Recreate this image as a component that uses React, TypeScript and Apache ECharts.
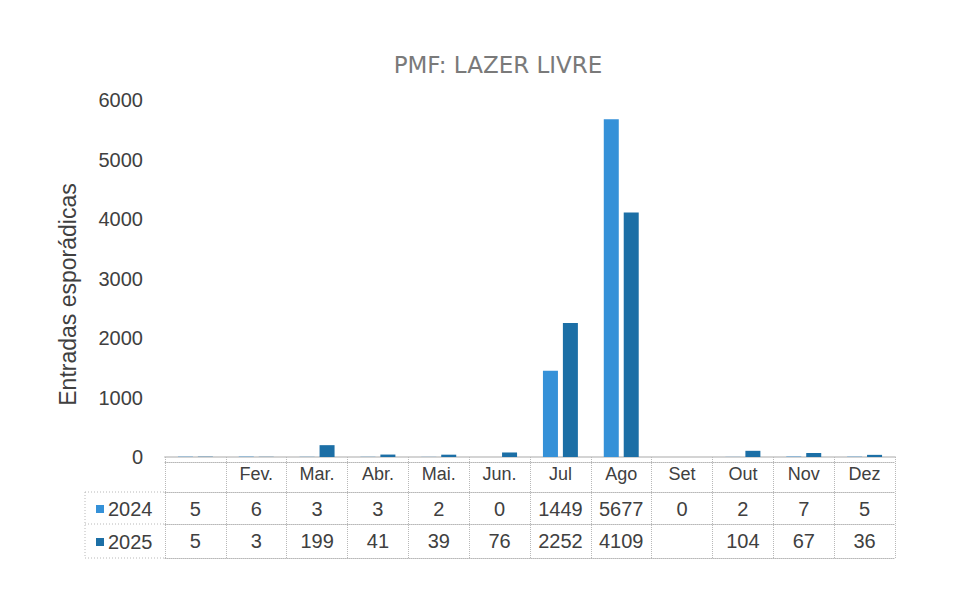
import React, { useEffect, useRef } from "react";
import * as echarts from "echarts";

const TITLE = "PMF: LAZER LIVRE";
const Y_NAME = "Entradas esporádicas";
const categories = ["", "Fev.", "Mar.", "Abr.", "Mai.", "Jun.", "Jul", "Ago", "Set", "Out", "Nov", "Dez"];
const seriesNames = ["2024", "2025"];
const values2024: (number | null)[] = [5, 6, 3, 3, 2, 0, 1449, 5677, 0, 2, 7, 5];
const values2025: (number | null)[] = [5, 3, 199, 41, 39, 76, 2252, 4109, null, 104, 67, 36];
const yTicks = { min: 0, max: 6000, interval: 1000 };

const C2024 = "#3591d8";
const C2025 = "#1c6fa6";
const TEXT = "#404040";
const GRID_LINE = "#b8b8b8";
const FONT = "Liberation Sans, Arial, sans-serif";

export default function App() {
  const ref = useRef<HTMLDivElement>(null);
  useEffect(() => {
    if (!ref.current) return;
    const chart = echarts.init(ref.current, null, { renderer: "svg" });
    const gridLeft = 165;
    const gridRight = 61;
    const gridTop = 100;
    const gridBottom = 133;
    const baseY = 590 - gridBottom;
    const row0 = 5;
    const row1 = 35;
    const row2 = 67;
    const row3 = 101;
    const tableLine = { color: GRID_LINE, width: 1, type: "dotted" as const };
    const toLabels = (arr: (number | null)[]) => arr.map((v) => (v == null ? "" : String(v)));
    const rowAxis = (offset: number, data: string[], show: boolean) => ({
      type: "category",
      gridIndex: 0,
      position: "bottom",
      offset,
      data,
      axisLine: { show: true, lineStyle: tableLine },
      axisTick: { show: false },
      axisLabel: {
        show,
        interval: 0,
        color: TEXT,
        fontSize: 20,
        fontFamily: FONT,
        margin: 7,
        verticalAlign: "top",
      },
      splitLine: { show: false },
    });
    const borderStyle = { stroke: GRID_LINE, lineWidth: 1, lineDash: [1, 2] };
    chart.setOption({
      animation: false,
      backgroundColor: "#ffffff",
      title: {
        text: TITLE,
        left: 493,
        textAlign: "center",
        top: 48,
        textStyle: {
          color: "#7a7a7a",
          fontSize: 23,
          fontWeight: "normal",
          fontFamily: "DejaVu Sans, sans-serif",
        },
      },
      legend: {
        orient: "vertical",
        left: 91,
        top: 494,
        itemWidth: 8,
        itemHeight: 8,
        itemGap: 13,
        icon: "rect",
        data: seriesNames,
        textStyle: { color: TEXT, fontSize: 20, fontFamily: FONT, lineHeight: 20, padding: [0, 0, 0, -1] },
        selectedMode: false,
      },
      grid: { left: gridLeft, right: gridRight, top: gridTop, bottom: gridBottom },
      xAxis: [
        {
          type: "category",
          data: categories,
          axisLine: { show: true, lineStyle: { color: "#d4d4d4", width: 2 } },
          axisTick: { show: true, interval: 0, length: row3, inside: false, lineStyle: tableLine },
          axisLabel: {
            interval: 0,
            color: TEXT,
            fontSize: 18,
            fontFamily: FONT,
            margin: 8,
            verticalAlign: "top",
          },
        },
        rowAxis(row0, categories.map(() => ""), false),
        rowAxis(row1, toLabels(values2024), true),
        rowAxis(row2, toLabels(values2025), true),
        rowAxis(row3, categories.map(() => ""), false),
      ],
      yAxis: {
        type: "value",
        min: yTicks.min,
        max: yTicks.max,
        interval: yTicks.interval,
        name: Y_NAME,
        nameLocation: "middle",
        nameGap: 86,
        nameRotate: 90,
        nameTextStyle: { color: TEXT, fontSize: 23, fontFamily: FONT, padding: [0, 32, 0, 0] },
        axisLine: { show: false },
        axisTick: { show: false },
        splitLine: { show: false },
        axisLabel: { color: TEXT, fontSize: 20, fontFamily: FONT, margin: 22, formatter: (v: number) => String(v) },
      },
      series: [
        {
          name: seriesNames[0],
          type: "bar",
          xAxisIndex: 0,
          data: values2024,
          barWidth: 15,
          barGap: "33%",
          itemStyle: { color: C2024 },
        },
        {
          name: seriesNames[1],
          type: "bar",
          xAxisIndex: 0,
          data: values2025,
          barWidth: 15,
          itemStyle: { color: C2025 },
        },
      ],
      graphic: [
        { type: "line", shape: { x1: 85, y1: baseY + row1, x2: gridLeft, y2: baseY + row1 }, style: borderStyle },
        { type: "line", shape: { x1: 85, y1: baseY + row2, x2: gridLeft, y2: baseY + row2 }, style: borderStyle },
        { type: "line", shape: { x1: 85, y1: baseY + row3, x2: gridLeft, y2: baseY + row3 }, style: borderStyle },
        { type: "line", shape: { x1: 85, y1: baseY + row1, x2: 85, y2: baseY + row3 }, style: borderStyle },
      ],
    });
    return () => chart.dispose();
  }, []);
  return <div ref={ref} style={{ width: 956, height: 590, margin: -8 }} />;
}
